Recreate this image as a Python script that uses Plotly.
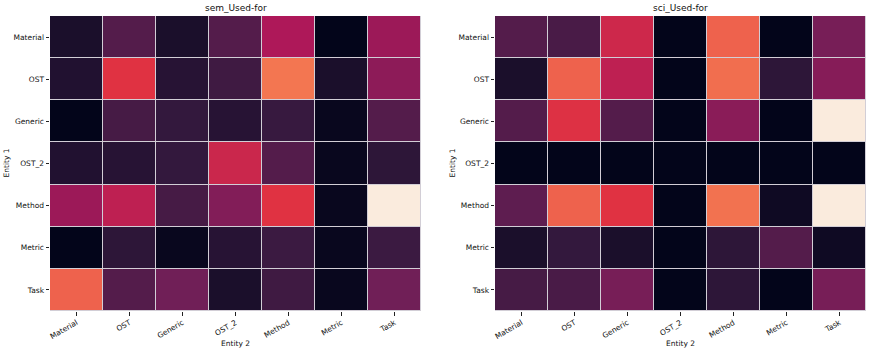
import plotly.graph_objects as go

entities_x = ["Material", "OST", "Generic", "OST_2", "Method", "Metric", "Task"]
entities_y = ["Material", "OST", "Generic", "OST_2", "Method", "Metric", "Task"]

sem_used_for = [
    [0.04, 0.17, 0.04, 0.17, 0.42, 0.00, 0.37],
    [0.05, 0.58, 0.06, 0.11, 0.75, 0.04, 0.33],
    [0.00, 0.13, 0.08, 0.06, 0.09, 0.01, 0.17],
    [0.05, 0.06, 0.08, 0.51, 0.17, 0.01, 0.07],
    [0.37, 0.47, 0.13, 0.30, 0.58, 0.01, 1.00],
    [0.00, 0.07, 0.01, 0.06, 0.10, 0.01, 0.10],
    [0.70, 0.17, 0.25, 0.04, 0.11, 0.01, 0.25],
]

sci_used_for = [
    [0.17, 0.14, 0.52, 0.00, 0.70, 0.00, 0.27],
    [0.04, 0.70, 0.47, 0.00, 0.73, 0.07, 0.31],
    [0.17, 0.57, 0.17, 0.00, 0.32, 0.00, 1.00],
    [0.00, 0.00, 0.00, 0.00, 0.00, 0.00, 0.00],
    [0.20, 0.70, 0.58, 0.00, 0.74, 0.02, 1.00],
    [0.04, 0.08, 0.04, 0.00, 0.07, 0.17, 0.02],
    [0.13, 0.14, 0.27, 0.00, 0.07, 0.00, 0.27],
]

titles = ["sem_Used-for", "sci_Used-for"]

rocket = [
    [0.0, "#03051a"],
    [0.083, "#35193e"],
    [0.25, "#701f57"],
    [0.417, "#ad1759"],
    [0.583, "#e13342"],
    [0.75, "#f37651"],
    [0.917, "#f6b48f"],
    [1.0, "#faebdd"],
]

W, H = 872, 353
FONT = "DejaVu Sans"


def px(x):
    return x / W


def py(y):
    return (H - y) / H


fig = go.Figure()
for i, z in enumerate([sem_used_for, sci_used_for]):
    sfx = "" if i == 0 else "2"
    fig.add_trace(go.Heatmap(
        z=z, x=entities_x, y=entities_y,
        colorscale=rocket, zmin=0, zmax=1, showscale=False,
        xgap=1, ygap=1, xaxis="x" + sfx, yaxis="y" + sfx,
        hoverinfo="skip",
    ))

x_domains = [[px(50), px(421)], [px(495), px(866)]]
y_domain = [py(311), py(16)]

axis_common = dict(
    showgrid=False, zeroline=False, ticks="outside", ticklen=3.5,
    tickcolor="#222", tickfont=dict(family=FONT, size=7.5, color="#111"),
    showline=False, automargin=False,
)
layout = dict(
    width=W, height=H,
    margin=dict(l=0, r=0, t=0, b=0),
    paper_bgcolor="white", plot_bgcolor="#d2ced6",
    font=dict(family=FONT, color="#111"),
    showlegend=False,
)
for i in range(2):
    sfx = "" if i == 0 else "2"
    layout["xaxis" + sfx] = dict(
        axis_common, domain=x_domains[i], anchor="y" + sfx, tickangle=-30,
    )
    layout["yaxis" + sfx] = dict(
        axis_common, domain=y_domain, anchor="x" + sfx, autorange="reversed",
    )
fig.update_layout(**layout)

for i in range(2):
    fig.add_annotation(
        text=titles[i], xref="paper", yref="paper",
        x=sum(x_domains[i]) / 2, y=py(8), xanchor="center", yanchor="middle",
        showarrow=False, font=dict(family=FONT, size=9, color="#111"),
    )
    fig.add_annotation(
        text="Entity 2", xref="paper", yref="paper",
        x=sum(x_domains[i]) / 2, y=py(343), xanchor="center", yanchor="middle",
        showarrow=False, font=dict(family=FONT, size=7.5, color="#111"),
    )
    fig.add_annotation(
        text="Entity 1", xref="paper", yref="paper", textangle=-90,
        x=px(6 if i == 0 else 452), y=sum(y_domain) / 2, xanchor="center", yanchor="middle",
        showarrow=False, font=dict(family=FONT, size=7.5, color="#111"),
    )

fig.write_html(
    "out.html",
    config={"displayModeBar": False, "staticPlot": True},
    post_script="document.body.style.margin='0';document.body.style.padding='0';",
)
